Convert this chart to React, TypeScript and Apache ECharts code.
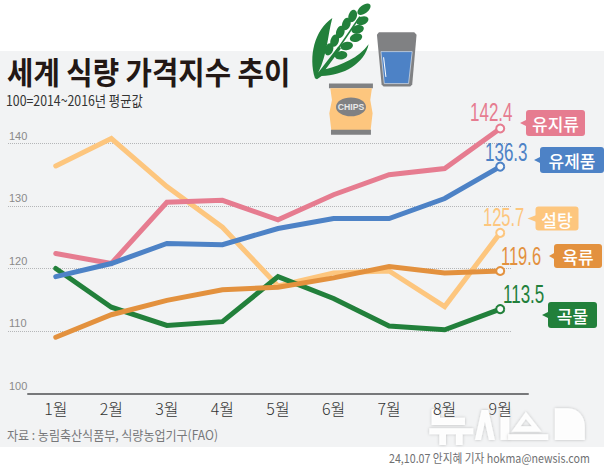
import React, { useEffect, useRef } from "react";
import * as echarts from "echarts";

const months = ["1월", "2월", "3월", "4월", "5월", "6월", "7월", "8월", "9월"];
const sugar = [136.4, 140.8, 133.1, 126.6, 117.2, 119.3, 119.6, 113.9, 125.7];
const oils = [122.4, 120.8, 130.6, 130.9, 127.8, 131.8, 135.0, 136.0, 142.4];
const cereals = [120.0, 113.8, 110.9, 111.5, 118.7, 115.2, 110.8, 110.2, 113.5];
const dairy = [118.7, 120.8, 124.0, 123.8, 126.4, 128.0, 128.0, 131.2, 136.3];
const meat = [109.0, 112.6, 114.9, 116.6, 117.0, 118.5, 120.3, 119.3, 119.6];

const PINK = "#e67c90";
const BLUE = "#4d82c6";
const SUGAR = "#fdc67e";
const ORANGE = "#e3913e";
const GREEN = "#22803b";
const SANS = '"Noto Sans CJK KR", sans-serif';
const NUM = '"Liberation Sans", sans-serif';

echarts.graphic.registerShape(
  "wheatBlade",
  echarts.graphic.extendPath(
    "M30,235 C10,170 28,90 82,54 C68,105 68,160 40,218 L100,140 L108,146 L62,208 C110,195 160,175 191,133 C180,190 115,228 50,228 L36,238 Z",
    {}
  )
);
echarts.graphic.registerShape(
  "wmD",
  echarts.graphic.extendPath("M405,40 L445,40 C475,40 495,65 495,95 L495,135 L405,135 Z", {})
);

const lineSeries = (name: string, data: number[], color: string) => ({
  name,
  type: "line",
  data,
  xAxisIndex: 0,
  yAxisIndex: 0,
  showAllSymbol: true,
  symbol: (_v: unknown, p: { dataIndex: number }) => (p.dataIndex === data.length - 1 ? "circle" : "none"),
  symbolSize: 8,
  lineStyle: { color, width: 5, cap: "round", join: "miter" },
  itemStyle: { color: "#f8f8f8", borderColor: color, borderWidth: 2 },
  emphasis: { disabled: true },
  silent: true,
});

const txt = (
  text: string,
  x: number,
  y: number,
  font: string,
  fill: string,
  scaleX = 1,
  align = "left"
) => ({
  type: "text",
  x,
  y,
  scaleX,
  z: 5,
  silent: true,
  style: { text, font, fill, align, verticalAlign: "middle" },
});

const badge = (x: number, y: number, w: number, h: number, color: string, label: string, tip = 6) => [
  { type: "rect", z: 4, silent: true, shape: { x, y, width: w, height: h, r: 3 }, style: { fill: color } },
  {
    type: "polygon",
    z: 4,
    silent: true,
    shape: { points: [[x - tip, y + h / 2], [x + 1, y + h / 2 - 3.5], [x + 1, y + h / 2 + 3.5]] },
    style: { fill: color },
  },
  txt(label, x + w / 2, y + h / 2 + 0.5, `500 17px ${SANS}`, "#ffffff", 1, "center"),
];

// icon coordinates are expressed in a local frame, scaled down inside a group
const grains: [number, number, number][] = [
  [72, 148, 72], [89, 122, 72], [106, 96, 72], [124, 72, 72], [143, 48, 72],
  [108, 166, 8], [125, 138, 12], [153, 113, 18], [158, 88, 18], [172, 62, 22],
  [177, 28, 38],
];

const icons = {
  type: "group",
  x: 305,
  y: 0,
  scaleX: 1 / 3,
  scaleY: 1 / 3,
  z: 3,
  silent: true,
  children: [
    { type: "wheatBlade", style: { fill: GREEN } },
    { type: "line", shape: { x1: 90, y1: 160, x2: 165, y2: 50 }, style: { stroke: GREEN, lineWidth: 5 } },
    ...grains.map(([x, y, a], i) => ({
      type: "ellipse",
      x,
      y,
      rotation: (a * Math.PI) / 180,
      shape: { cx: 0, cy: 0, rx: i === grains.length - 1 ? 23 : 19, ry: 12.5 },
      style: { fill: GREEN },
    })),
    {
      type: "polygon",
      shape: { points: [[222, 97], [328, 97], [335, 104], [322, 254], [316, 260], [236, 260], [230, 254], [216, 104]] },
      style: { fill: "#808183" },
    },
    {
      type: "polygon",
      shape: { points: [[228, 155], [322, 155], [311, 251], [238, 251]] },
      style: { fill: BLUE, stroke: "#dfe7f2", lineWidth: 2 },
    },
    { type: "line", shape: { x1: 236, y1: 172, x2: 243, y2: 231 }, style: { stroke: "#ffffff", lineWidth: 3 } },
    { type: "rect", shape: { x: 72, y: 251, width: 132, height: 14 }, style: { fill: "#808183" } },
    {
      type: "polygon",
      shape: { points: [[76, 265], [201, 265], [196, 300], [203, 340], [197, 391], [79, 391], [73, 340], [81, 300]] },
      style: { fill: SUGAR },
    },
    { type: "rect", shape: { x: 78, y: 390, width: 120, height: 15 }, style: { fill: "#808183" } },
    { type: "ellipse", shape: { cx: 138, cy: 321, rx: 45, ry: 28 }, style: { fill: "#808183" } },
    {
      type: "text",
      x: 138,
      y: 321,
      style: { text: "CHIPS", font: `bold 26px ${NUM}`, fill: "#e8e8e8", align: "center", verticalAlign: "middle" },
    },
  ],
};

const wmStyle = { fill: "#ffffff", opacity: 0.95, shadowBlur: 3, shadowColor: "rgba(0,0,0,0.25)" };
const wmPolys: number[][][] = [
  [[35, 42], [60, 42], [60, 68], [135, 68], [135, 90], [35, 90]],
  [[28, 100], [160, 100], [160, 118], [128, 118], [128, 150], [108, 150], [108, 118], [78, 118], [78, 150], [58, 150], [58, 118], [28, 118]],
  [[185, 45], [205, 45], [225, 135], [207, 135], [195, 80], [183, 135], [165, 135]],
  [[242, 40], [268, 40], [268, 135], [242, 135]],
  [[318, 50], [365, 110], [275, 110], [318, 50], [318, 72], [302, 94], [336, 94], [318, 72]],
  [[265, 118], [385, 118], [385, 135], [265, 135]],
];
const watermark = {
  type: "group",
  x: 420,
  y: 395,
  scaleX: 1 / 3,
  scaleY: 1 / 3,
  z: -1,
  silent: true,
  children: [
    ...wmPolys.map((points) => ({ type: "polygon", shape: { points }, style: wmStyle })),
    { type: "wmD", style: wmStyle },
  ],
};

export default function App() {
  const ref = useRef<HTMLDivElement>(null);
  useEffect(() => {
    document.body.style.margin = "0";
    const chart = echarts.init(ref.current!, null, { renderer: "svg" });
    chart.setOption({
      animation: false,
      backgroundColor: "#ffffff",
      grid: [
        { left: 28, right: 76, top: 81, height: 312.5 },
        { left: 8, right: 92, top: 81, height: 312.5 },
      ],
      xAxis: [
        {
          type: "category",
          gridIndex: 0,
          data: months,
          boundaryGap: true,
          axisLine: { lineStyle: { color: "#77787a", width: 2 } },
          axisTick: { alignWithLabel: true, inside: true, length: 10, lineStyle: { color: "#555", width: 1 } },
          axisLabel: { color: "#333333", fontFamily: SANS, fontSize: 16, fontWeight: 300, margin: 6 },
        },
        { type: "value", gridIndex: 1, min: 0, max: 1, show: false },
      ],
      yAxis: [
        { type: "value", gridIndex: 0, min: 100, max: 150, show: false },
        {
          type: "value",
          gridIndex: 1,
          min: 100,
          max: 150,
          interval: 10,
          axisLine: { show: false },
          axisTick: { show: false },
          axisLabel: {
            inside: true,
            margin: 1,
            color: "#8a8a8a",
            fontFamily: '"Liberation Sans Narrow", "Liberation Sans", sans-serif',
            fontSize: 11,
            verticalAlign: "bottom",
            showMaxLabel: false,
            lineHeight: 16,
          },
          splitLine: { showMinLine: false, showMaxLine: false, lineStyle: { color: "#b5b6b8", type: "dotted", width: 1 } },
        },
      ],
      series: [
        lineSeries("설탕", sugar, SUGAR),
        lineSeries("유지류", oils, PINK),
        lineSeries("곡물", cereals, GREEN),
        lineSeries("유제품", dairy, BLUE),
        lineSeries("육류", meat, ORANGE),
      ],
      graphic: {
        elements: [
          { type: "rect", z: -2, silent: true, shape: { x: 0, y: 51, width: 604, height: 396 }, style: { fill: "#f2f3f4" } },
          watermark,
          icons,
          txt("세계 식량 가격지수 추이", 7, 71, `bold 31px ${SANS}`, "#231815", 0.925),
          txt("100=2014~2016년 평균값", 6, 100, `400 14px ${SANS}`, "#333333", 0.88),
          txt("142.4", 470, 113, `25px ${NUM}`, PINK, 0.68),
          txt("136.3", 485, 153, `25px ${NUM}`, BLUE, 0.68),
          txt("125.7", 483, 217, `25px ${NUM}`, SUGAR, 0.66),
          txt("119.6", 501, 256, `25px ${NUM}`, ORANGE, 0.66),
          txt("113.5", 503, 295, `25px ${NUM}`, GREEN, 0.68),
          ...badge(526, 110, 59, 26, PINK, "유지류"),
          ...badge(540, 147, 64, 26, BLUE, "유제품"),
          ...badge(535.5, 206.5, 43, 24, SUGAR, "설탕", 8),
          ...badge(554, 244, 48, 24, ORANGE, "육류", 5),
          ...badge(548, 302, 49, 26, GREEN, "곡물"),
          txt("자료 : 농림축산식품부, 식량농업기구(FAO)", 7, 434, `400 13px ${SANS}`, "#77787a", 0.925),
          txt("24,10.07 안지혜 기자 hokma@newsis.com", 389, 458, `400 12px ${SANS}`, "#6f7072", 0.89),
        ],
      },
    });
    return () => chart.dispose();
  }, []);
  return <div ref={ref} style={{ width: 604, height: 467, position: "absolute", left: 0, top: 0 }} />;
}
